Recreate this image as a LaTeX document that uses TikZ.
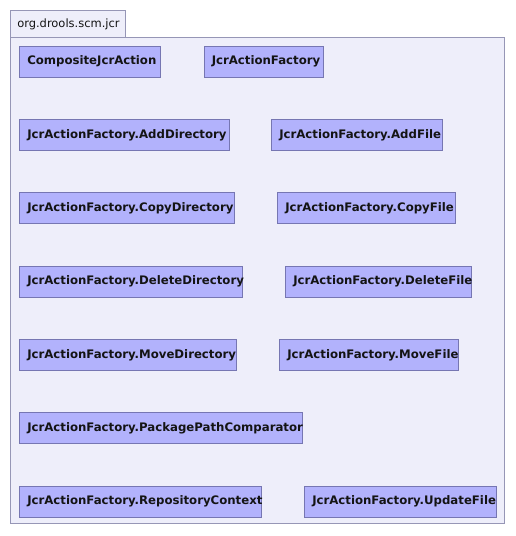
\documentclass[tikz,border=0pt]{standalone}
\usepackage{fontspec}
\setmainfont{DejaVu Sans}
\definecolor{pkgfill}{RGB}{238,238,250}
\definecolor{pkgdraw}{RGB}{150,150,182}
\definecolor{boxfill}{RGB}{178,178,252}
\definecolor{boxdraw}{RGB}{118,118,178}
\definecolor{txtcol}{RGB}{20,20,20}
\begin{document}
\begin{tikzpicture}[x=0.75pt,y=-0.75pt,
  pkg/.style={draw=pkgdraw,fill=pkgfill,line width=0.75pt},
  cls/.style={draw=boxdraw,fill=boxfill,line width=0.75pt,inner sep=0pt,anchor=north west,minimum height=23.25pt},
  lbl/.style={anchor=west,inner sep=0pt,text=txtcol,font=\bfseries\fontsize{8.8pt}{10pt}\selectfont},
  tablbl/.style={anchor=west,inner sep=0pt,text=txtcol,font=\fontsize{8.6pt}{10pt}\selectfont}]
\useasboundingbox (0,0) rectangle (515,536);
\path[pkg] (10,37) rectangle (504.5,523.5);
\path[pkg] (10,10) rectangle (125,37);
\node[tablbl] (tab) at (17,24) {org.drools.scm.jcr};
% classes
\newcommand{\cls}[5]{%
  \node[cls,minimum width={(#3-#2)*0.75pt}] (#1) at (#2,#4) {};
  \node[lbl] (#1t) at ([xshift=6pt]#1.west) {#5};}
\cls{a}{19}{159.5}{45.5}{CompositeJcrAction}
\cls{b}{203.5}{323}{45.5}{JcrActionFactory}
\cls{c}{19}{229}{119}{JcrActionFactory.AddDirectory}
\cls{d}{271}{442}{119}{JcrActionFactory.AddFile}
\cls{e}{19}{234}{192}{JcrActionFactory.CopyDirectory}
\cls{f}{277}{455}{192}{JcrActionFactory.CopyFile}
\cls{g}{19}{242}{265.5}{JcrActionFactory.DeleteDirectory}
\cls{h}{285}{471}{265.5}{JcrActionFactory.DeleteFile}
\cls{i}{19}{236}{339}{JcrActionFactory.MoveDirectory}
\cls{j}{279}{458}{339}{JcrActionFactory.MoveFile}
\cls{k}{19}{302}{412}{JcrActionFactory.PackagePathComparator}
\cls{l}{19}{260.5}{485.5}{JcrActionFactory.RepositoryContext}
\cls{m}{304}{495.5}{485.5}{JcrActionFactory.UpdateFile}
\end{tikzpicture}
\end{document}
